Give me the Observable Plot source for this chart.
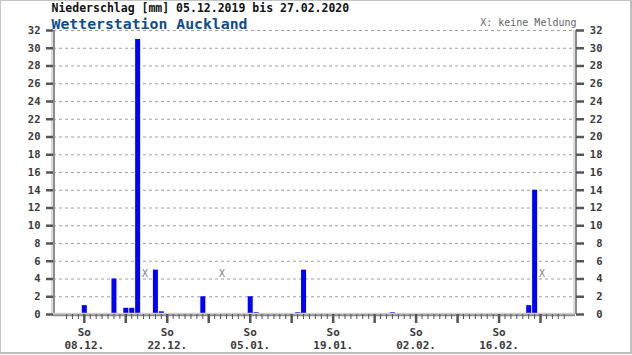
<!DOCTYPE html>
<html>
<head>
<meta charset="utf-8">
<script src="https://cdn.jsdelivr.net/npm/d3@7"></script>
<script src="https://cdn.jsdelivr.net/npm/@observablehq/plot@0.6"></script>
<style>
  html, body { margin: 0; padding: 0; background: #fff; }
  #wrap { position: relative; width: 632px; height: 355px; overflow: hidden; }
  #border { position: absolute; left: 0; top: 0; width: 629px; height: 351px; border: 1px solid #c4c4c4; border-right: 2px solid #bdbdbd; border-bottom: 2px solid #bdbdbd; pointer-events: none; }
  svg { position: absolute; left: 0; top: 0; }
</style>
</head>
<body>
<div id="wrap"><div id="border"></div></div>
<script>
// ---- data ----
const titleText = "Niederschlag [mm] 05.12.2019 bis 27.02.2020";
const subtitleText = "Wetterstation Auckland";
const noteText = "X: keine Meldung";

const rainDays = ["2019-12-08","2019-12-13","2019-12-15","2019-12-16","2019-12-17","2019-12-20","2019-12-21","2019-12-28","2020-01-05","2020-01-06","2020-01-13","2020-01-14","2020-01-29","2020-02-21","2020-02-22"];
const rainValues = [1, 4, 0.7, 0.7, 31, 5, 0.3, 2, 2, 0.2, 0.2, 5, 0.2, 1, 14];
const missingDays = ["2019-12-18","2019-12-31","2020-02-23"];
const labelDays = ["2019-12-08","2019-12-22","2020-01-05","2020-01-19","2020-02-02","2020-02-16"];
const weekdayLabel = "So";
const yTicks = [0,2,4,6,8,10,12,14,16,18,20,22,24,26,28,30,32];
const firstDay = "2019-12-05";
const lastDay = "2020-02-27";

// ---- helpers ----
const DAY = 864e5;
const parse = s => new Date(s + "T00:00:00Z");
const start = parse(firstDay), end = parse(lastDay);
const xDomain = [new Date(+start - 2.2 * DAY), new Date(+end + 1.9 * DAY)];
const allDays = d3.utcDay.range(start, new Date(+end + 1));
const sundays = allDays.filter(d => d.getUTCDay() === 0);
const fmt = d3.utcFormat("%d.%m.");
const bars = rainDays.map((d, i) => ({date: parse(d), value: rainValues[i]}));
const missing = missingDays.map(parse);
const labels = labelDays.map(parse);

const mono = "'DejaVu Sans Mono', 'Liberation Mono', monospace";
const axisGray = "#8c8c8c";
const tickGray = "#555";
const labelColor = "#3a3a3a";

const chart = Plot.plot({
  width: 632,
  height: 355,
  marginLeft: 53,
  marginRight: 57,
  marginTop: 30,
  marginBottom: 41,
  style: {fontFamily: mono, background: "transparent"},
  x: {type: "utc", domain: xDomain, axis: null},
  y: {domain: [0, 32], axis: null},
  marks: [
    // dashed grid
    Plot.ruleY(yTicks.filter(d => d > 0), {stroke: "#a0a0a0", strokeWidth: 1, strokeDasharray: "3,3"}),
    // bars
    Plot.ruleX(bars, {x: "date", y1: 0, y2: "value", stroke: "#0000ff", strokeWidth: 5}),
    // missing markers
    Plot.text(missing, {x: d => d, y: 4.6, text: () => "X", dx: 1.5, fill: "#808080", fontSize: 10, fontFamily: mono}),
    // axis lines (double, 3D look)
    Plot.ruleX([xDomain[0]], {y1: 0, y2: 32, stroke: "#d0d0d0", strokeWidth: 1.5, dx: -1.5}),
    Plot.ruleX([xDomain[0]], {y1: 0, y2: 32, stroke: axisGray, strokeWidth: 2, dx: 0.5}),
    Plot.ruleX([xDomain[1]], {y1: 0, y2: 32, stroke: "#d0d0d0", strokeWidth: 1.5, dx: -1.5}),
    Plot.ruleX([xDomain[1]], {y1: 0, y2: 32, stroke: axisGray, strokeWidth: 2, dx: 0.5}),
    Plot.ruleY([0], {stroke: "#d0d0d0", strokeWidth: 1.5, dy: -1}),
    Plot.ruleY([0], {stroke: axisGray, strokeWidth: 2, dy: 0.8}),
    // y axis left
    Plot.axisY(yTicks, {anchor: "left", tickSize: 7, tickPadding: 6, stroke: tickGray, strokeWidth: 2.5,
      fill: labelColor, fontSize: 10.5, fontWeight: "bold", fontFamily: mono, label: null}),
    // y axis right ticks
    Plot.axisY(yTicks, {anchor: "right", tickSize: 8, stroke: tickGray, strokeWidth: 2.5, fill: "none", label: null}),
    Plot.text(yTicks, {x: () => xDomain[1], y: d => d, text: d => String(d), textAnchor: "end", dx: 27,
      fill: labelColor, fontSize: 10.5, fontWeight: "bold", fontFamily: mono}),
    // x ticks: daily minor, sunday major
    Plot.axisX(allDays, {tickSize: 5, stroke: tickGray, strokeWidth: 1, fill: "none", label: null}),
    Plot.axisX(sundays, {tickSize: 9, stroke: tickGray, strokeWidth: 2.5, fill: "none", label: null}),
    Plot.axisX(labels, {tickSize: 0, tickPadding: 12, tickFormat: d => weekdayLabel + "\n" + fmt(d),
      fill: labelColor, fontSize: 11, fontWeight: "bold", fontFamily: mono, lineHeight: 1.18, label: null}),
    // titles
    Plot.text([titleText], {frameAnchor: "top-left", text: d => d, lineAnchor: "bottom", dx: -2, dy: -19,
      fill: "#111", fontSize: 11.5, fontWeight: "bold", fontFamily: mono}),
    Plot.text([subtitleText], {frameAnchor: "top-left", text: d => d, lineAnchor: "bottom", dx: -2, dy: -2,
      fill: "#0f4c8c", fontSize: 14.8, fontWeight: "bold", fontFamily: mono}),
    Plot.text([noteText], {frameAnchor: "top-right", text: d => d, lineAnchor: "bottom", textAnchor: "end", dx: 1, dy: -5,
      fill: "#666", fontSize: 10, fontFamily: mono})
  ]
});
document.getElementById("wrap").appendChild(chart);
</script>
</body>
</html>
